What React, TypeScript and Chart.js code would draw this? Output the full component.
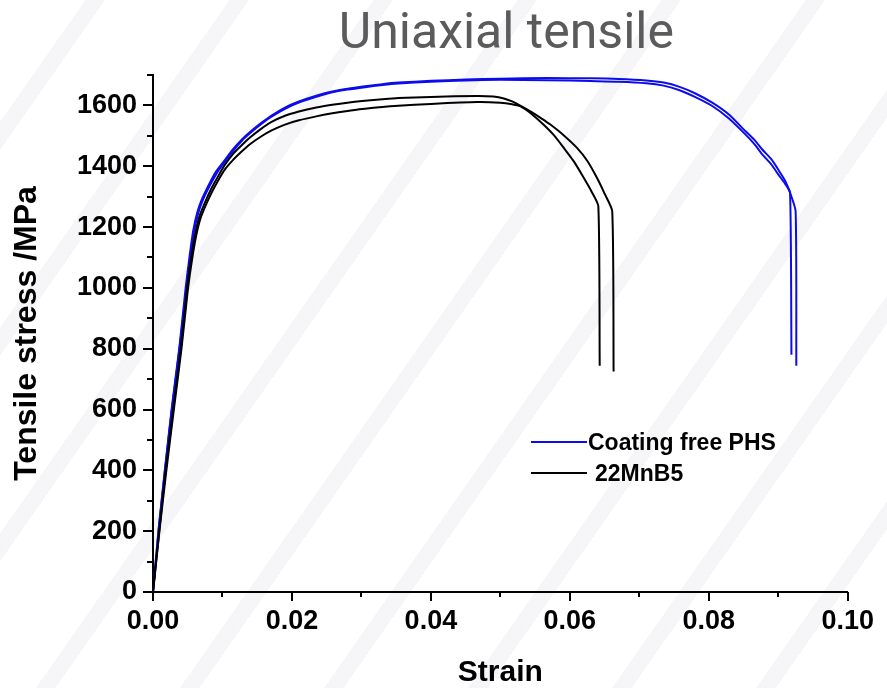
import React, { useEffect, useRef } from 'react';
import { Chart, registerables } from 'chart.js';

Chart.register(...registerables);

// ---- data -------------------------------------------------------------
const chartTitle = 'Uniaxial tensile';
const xAxisTitle = 'Strain';
const yAxisTitle = 'Tensile stress /MPa';

const seriesLabels = ['Coating free PHS', '22MnB5'];
const seriesColors = ['rgb(12,12,235)', '#000000'];

const strainTicks = [0, 0.02, 0.04, 0.06, 0.08, 0.1];
const strainTickLabels = ['0.00', '0.02', '0.04', '0.06', '0.08', '0.10'];
const stressTicks = [0, 200, 400, 600, 800, 1000, 1200, 1400, 1600];
const stressTickLabels = ['0', '200', '400', '600', '800', '1000', '1200', '1400', '1600'];

// [strain, stress MPa]
const phsSpecimen1: [number, number][] = [
  [0, 0], [0.0008, 205], [0.0017, 400], [0.0027, 605], [0.0038, 805], [0.0047, 1000],
  [0.0053, 1110], [0.0058, 1190], [0.0064, 1250], [0.0071, 1295], [0.0081, 1342],
  [0.009, 1380], [0.01, 1410], [0.0115, 1455], [0.0128, 1488], [0.014, 1513],
  [0.0155, 1541], [0.017, 1566], [0.019, 1593], [0.021, 1613], [0.0235, 1632],
  [0.0258, 1646], [0.028, 1655], [0.0305, 1663], [0.033, 1670], [0.0353, 1675],
  [0.04, 1681], [0.045, 1685], [0.05, 1688], [0.0567, 1690], [0.063, 1689],
  [0.067, 1687], [0.071, 1682], [0.0735, 1675], [0.0758, 1661], [0.078, 1640],
  [0.0805, 1609], [0.0829, 1570], [0.0853, 1515], [0.0866, 1486], [0.0877, 1455],
  [0.089, 1423], [0.09, 1389], [0.091, 1352], [0.0917, 1313], [0.0925, 1252],
  [0.0926, 744],
];
const phsSpecimen2: [number, number][] = [
  [0, 0], [0.0008, 200], [0.0017, 395], [0.0027, 598], [0.0038, 798], [0.0048, 995],
  [0.0054, 1105], [0.0059, 1185], [0.0065, 1245], [0.0072, 1290], [0.0082, 1337],
  [0.0091, 1374], [0.01, 1404], [0.0115, 1450], [0.0128, 1484], [0.014, 1509],
  [0.0155, 1537], [0.017, 1562], [0.019, 1589], [0.021, 1609], [0.0235, 1628],
  [0.0258, 1643], [0.028, 1652], [0.0305, 1660], [0.033, 1667], [0.0353, 1672],
  [0.04, 1678], [0.045, 1682], [0.05, 1684], [0.0567, 1683], [0.063, 1680],
  [0.067, 1678], [0.071, 1673], [0.0735, 1665], [0.0758, 1650], [0.078, 1628],
  [0.0805, 1598], [0.0829, 1557], [0.0853, 1504], [0.0866, 1472], [0.0877, 1439],
  [0.089, 1406], [0.09, 1373], [0.091, 1342], [0.0917, 1313], [0.0919, 780],
];
const mnbSpecimen1: [number, number][] = [
  [0, 0], [0.0009, 200], [0.0018, 395], [0.0029, 600], [0.004, 800], [0.0049, 1000],
  [0.0055, 1100], [0.0061, 1180], [0.0067, 1236], [0.0075, 1282], [0.0084, 1327],
  [0.0093, 1364], [0.0103, 1403], [0.0115, 1440], [0.0128, 1470], [0.014, 1495],
  [0.0155, 1522], [0.017, 1545], [0.019, 1566], [0.021, 1580], [0.0235, 1593],
  [0.0258, 1602], [0.028, 1609], [0.0305, 1615], [0.033, 1620], [0.0353, 1624],
  [0.04, 1628], [0.0467, 1631], [0.049, 1629], [0.0505, 1623], [0.0517, 1613],
  [0.053, 1598], [0.0545, 1578], [0.056, 1556], [0.0572, 1537], [0.0591, 1502],
  [0.061, 1461], [0.0625, 1418], [0.0639, 1362], [0.065, 1310], [0.0661, 1252],
  [0.0663, 725],
];
const mnbSpecimen2: [number, number][] = [
  [0, 0], [0.0009, 195], [0.0019, 395], [0.003, 600], [0.0041, 800], [0.005, 990],
  [0.0056, 1090], [0.0062, 1170], [0.0068, 1226], [0.0076, 1272], [0.0085, 1316],
  [0.0093, 1350], [0.0103, 1388], [0.0115, 1420], [0.0128, 1449], [0.014, 1473],
  [0.0155, 1497], [0.017, 1517], [0.019, 1537], [0.021, 1551], [0.0235, 1564],
  [0.0258, 1574], [0.028, 1582], [0.0305, 1589], [0.033, 1595], [0.0353, 1599],
  [0.04, 1605], [0.0467, 1611], [0.05, 1609], [0.0515, 1605], [0.0529, 1597],
  [0.0545, 1572], [0.0562, 1537], [0.0577, 1502], [0.0591, 1461], [0.0606, 1415],
  [0.062, 1362], [0.0631, 1318], [0.0641, 1269], [0.0643, 744],
];

// ---- helpers ----------------------------------------------------------
const BOLD_FAMILY = 'Arial, "Liberation Sans", Helvetica, sans-serif';
const toXY = (pts: [number, number][]) => pts.map(([x, y]) => ({ x, y }));

const labelFor = (value: number, ticks: number[], labels: string[]) => {
  const i = ticks.findIndex((t) => Math.abs(t - value) < 1e-9);
  return i >= 0 ? labels[i] : '';
};

// Chart title drawn above the plot area
const titlePlugin = {
  id: 'plotTitle',
  afterDraw(chart: any) {
    const { ctx, chartArea } = chart;
    ctx.save();
    ctx.font = '50px Roboto, "Noto Sans", sans-serif';
    ctx.fillStyle = '#5b5b5b';
    ctx.textAlign = 'center';
    ctx.textBaseline = 'alphabetic';
    ctx.fillText(chartTitle, (chartArea.left + chartArea.right) / 2 + 6, 48);
    ctx.restore();
  },
};

// Outward major/minor tick marks on both axes
const tickMarksPlugin = {
  id: 'tickMarks',
  afterDraw(chart: any) {
    const { ctx } = chart;
    const xs = chart.scales.x;
    const ys = chart.scales.y;
    ctx.save();
    ctx.strokeStyle = '#000';
    ctx.lineWidth = 2;
    ctx.beginPath();
    ys.ticks.forEach((t: any) => {
      const p = Math.round(ys.getPixelForValue(t.value));
      const major = labelFor(t.value, stressTicks, stressTickLabels) !== '';
      const len = major ? 10 : 6;
      ctx.moveTo(ys.right - len, p);
      ctx.lineTo(ys.right, p);
    });
    xs.ticks.forEach((t: any) => {
      const p = Math.round(xs.getPixelForValue(t.value));
      const major = labelFor(t.value, strainTicks, strainTickLabels) !== '';
      const len = major ? 9 : 5;
      ctx.moveTo(p, xs.top);
      ctx.lineTo(p, xs.top + len);
    });
    ctx.stroke();
    ctx.restore();
  },
};

// Legend placed inside the plot area
const legendGaps = [1, 8];
const legendPlugin = {
  id: 'insideLegend',
  afterDraw(chart: any) {
    const { ctx, chartArea } = chart;
    const x0 = chartArea.left + 378;
    const y0 = chartArea.top + 367;
    ctx.save();
    ctx.font = `bold 23px ${BOLD_FAMILY}`;
    ctx.textAlign = 'left';
    ctx.textBaseline = 'alphabetic';
    seriesLabels.forEach((label, i) => {
      const yy = y0 + i * 31;
      ctx.strokeStyle = seriesColors[i];
      ctx.lineWidth = 2;
      ctx.beginPath();
      ctx.moveTo(x0, yy);
      ctx.lineTo(x0 + 56, yy);
      ctx.stroke();
      ctx.fillStyle = '#000';
      ctx.fillText(label, x0 + 56 + legendGaps[i], yy + 8);
    });
    ctx.restore();
  },
};

export default function App() {
  const canvasRef = useRef<HTMLCanvasElement | null>(null);

  useEffect(() => {
    if (!canvasRef.current) return;
    const curve = (pts: [number, number][], color: string, label: string) => ({
      label,
      data: toXY(pts),
      borderColor: color,
      backgroundColor: color,
      borderWidth: 2,
      pointRadius: 0,
      fill: false,
      tension: 0.2,
      borderJoinStyle: 'round' as const,
    });

    const chart = new Chart(canvasRef.current, {
      type: 'line',
      data: {
        datasets: [
          curve(mnbSpecimen1, seriesColors[1], seriesLabels[1]),
          curve(mnbSpecimen2, seriesColors[1], seriesLabels[1]),
          curve(phsSpecimen1, seriesColors[0], seriesLabels[0]),
          curve(phsSpecimen2, seriesColors[0], seriesLabels[0]),
        ],
      },
      options: {
        responsive: false,
        animation: false,
        devicePixelRatio: 1,
        layout: { padding: { top: 75, right: 34, left: 0, bottom: 0 } },
        plugins: {
          legend: { display: false },
          tooltip: { enabled: false },
          title: { display: false },
        },
        scales: {
          x: {
            type: 'linear',
            min: 0,
            max: 0.1,
            grid: { display: false, drawTicks: false },
            border: { display: true, color: '#000', width: 2 },
            ticks: {
              stepSize: 0.01,
              autoSkip: false,
              maxRotation: 0,
              padding: 13,
              color: '#000',
              font: { family: BOLD_FAMILY, size: 27, weight: 'bold' },
              callback: (v: any) => labelFor(Number(v), strainTicks, strainTickLabels),
            },
            title: {
              display: true,
              text: xAxisTitle,
              color: '#000',
              font: { family: BOLD_FAMILY, size: 30, weight: 'bold', lineHeight: 1 },
              padding: { top: 0, bottom: 0 },
            },
            afterFit: (scale: any) => {
              scale.height = 96;
            },
          },
          y: {
            type: 'linear',
            min: 0,
            max: 1700,
            grid: { display: false, drawTicks: false },
            border: { display: true, color: '#000', width: 2 },
            ticks: {
              stepSize: 100,
              autoSkip: false,
              padding: 16,
              color: '#000',
              font: { family: BOLD_FAMILY, size: 27, weight: 'bold' },
              callback: (v: any) => labelFor(Number(v), stressTicks, stressTickLabels),
            },
            title: {
              display: true,
              text: yAxisTitle,
              color: '#000',
              font: { family: BOLD_FAMILY, size: 32, weight: 'bold', lineHeight: 1 },
              padding: { top: 11, bottom: 0 },
            },
            afterFit: (scale: any) => {
              scale.width = 153;
            },
          },
        },
      },
      plugins: [titlePlugin, tickMarksPlugin, legendPlugin],
    } as any);

    return () => chart.destroy();
  }, []);

  return (
    <div
      style={{
        position: 'absolute',
        left: 0,
        top: 0,
        width: 887,
        height: 688,
        overflow: 'hidden',
        backgroundColor: '#ffffff',
        backgroundImage:
          'repeating-linear-gradient(125deg, rgba(255,255,255,0) 0px, rgba(255,255,255,0) 70px, rgba(226,226,234,0.32) 70px, rgba(226,226,234,0.32) 86px, rgba(255,255,255,0) 86px, rgba(255,255,255,0) 118px)',
      }}
    >
      <canvas ref={canvasRef} width={887} height={688} style={{ display: 'block' }} />
    </div>
  );
}
